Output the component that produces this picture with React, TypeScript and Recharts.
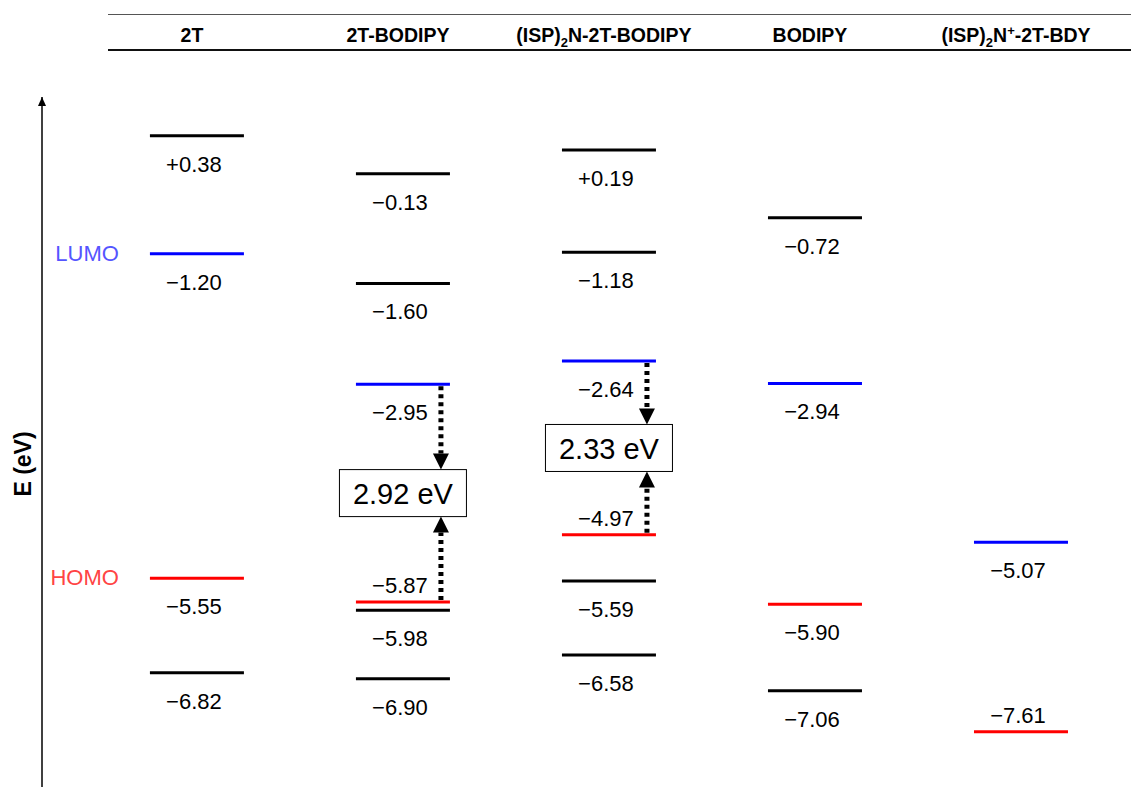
import {
  ComposedChart,
  Label,
  ReferenceLine,
  Scatter,
  XAxis,
  YAxis,
} from "recharts";

// compounds, left to right (_{..} subscript, ^{..} superscript)
const compounds = [
  "2T",
  "2T-BODIPY",
  "(ISP)_{2}N-2T-BODIPY",
  "BODIPY",
  "(ISP)_{2}N^{+}-2T-BDY",
];

// orbital energies in eV, one list per compound
const levels2T = [0.38, -1.2, -5.55, -6.82];
const levels2TBodipy = [-0.13, -1.6, -2.95, -5.87, -5.98, -6.9];
const levelsIspBodipy = [0.19, -1.18, -2.64, -4.97, -5.59, -6.58];
const levelsBodipy = [-0.72, -2.94, -5.9, -7.06];
const levelsIspPlus = [-5.07, -7.61];

const lumo = [-1.2, -2.95, -2.64, -2.94, -5.07];
const homo = [-5.55, -5.87, -4.97, -5.9, -7.61];

// values written above their line instead of below
const labelsAbove = [-5.87, -4.97, -7.61];

// compounds that get the band gap arrows
const gapCompounds = [1, 2];

const allLevels = [
  levels2T,
  levels2TBodipy,
  levelsIspBodipy,
  levelsBodipy,
  levelsIspPlus,
];

type Level = {
  col: number;
  e: number;
  kind: "lumo" | "homo" | "mo";
  above: boolean;
};

const levelData: Level[] = allLevels.flatMap((list, col) =>
  list.map((e) => ({
    col,
    e,
    kind: e === lumo[col] ? "lumo" : e === homo[col] ? "homo" : "mo",
    above: labelsAbove.includes(e),
  }))
);

const FONT = '"Liberation Sans", Arial, Helvetica, sans-serif';
const X_DOMAIN: [number, number] = [-0.752, 4.534];
const Y_DOMAIN: [number, number] = [-8.35, 0.9];

function formatEnergy(e: number) {
  return e > 0 ? `+${e.toFixed(2)}` : `\u2212${Math.abs(e).toFixed(2)}`;
}

function richText(s: string, small: number) {
  const parts = s.split(/(_\{[^}]*\}|\^\{[^}]*\})/).filter(Boolean);
  let shift = 0;
  return parts.map((p, i) => {
    let want = 0;
    let text = p;
    let size: number | undefined;
    if (p.startsWith("_{")) {
      want = 5;
      text = p.slice(2, -1);
      size = small;
    } else if (p.startsWith("^{")) {
      want = -7;
      text = p.slice(2, -1);
      size = small;
    }
    const dy = want - shift;
    shift = want;
    return (
      <tspan key={i} dy={dy} fontSize={size}>
        {text}
      </tspan>
    );
  });
}

function HeaderTick(props: any) {
  const { x, payload } = props;
  const name = compounds[payload.value];
  if (name === undefined) return null;
  return (
    <text
      x={x - 5}
      y={42}
      textAnchor="middle"
      fontFamily={FONT}
      fontWeight="bold"
      fontSize={19.5}
      fill="#000"
    >
      {richText(name, 13)}
    </text>
  );
}

function LevelShape(props: any) {
  const { cx, cy, payload } = props;
  const p = payload as Level;
  const color =
    p.kind === "lumo" ? "#0000ff" : p.kind === "homo" ? "#ff0000" : "#000000";
  const half = 47;
  return (
    <g>
      <line
        x1={cx - half}
        x2={cx + half}
        y1={cy}
        y2={cy}
        stroke={color}
        strokeWidth={3}
      />
      <text
        x={cx - 3}
        y={p.above ? cy - 9 : cy + 36}
        textAnchor="middle"
        fontFamily={FONT}
        fontSize={22}
        fill="#000"
      >
        {formatEnergy(p.e)}
      </text>
      {p.col === 0 && p.kind !== "mo" ? (
        <text
          x={cx - 78}
          y={cy + 7}
          textAnchor="end"
          fontFamily={FONT}
          fontSize={22}
          fill={p.kind === "lumo" ? "#5555ff" : "#ff4444"}
        >
          {p.kind === "lumo" ? "LUMO" : "HOMO"}
        </text>
      ) : null}
    </g>
  );
}

function GapShape(props: any) {
  const { x1, y1, y2, gap } = props;
  const boxW = 127;
  const boxH = 47;
  const head = 16;
  const mid = (y1 + y2) / 2;
  const top = mid - boxH / 2;
  const bottom = mid + boxH / 2;
  const ax = x1 + 38;
  return (
    <g>
      <line
        x1={ax}
        x2={ax}
        y1={y1 + 2}
        y2={top - head}
        stroke="#000"
        strokeWidth={5}
        strokeDasharray="4 4"
      />
      <polygon
        points={`${ax - 8},${top - head} ${ax + 8},${top - head} ${ax},${top}`}
        fill="#000"
      />
      <line
        x1={ax}
        x2={ax}
        y1={y2 - 2}
        y2={bottom + head}
        stroke="#000"
        strokeWidth={5}
        strokeDasharray="4 4"
      />
      <polygon
        points={`${ax - 8},${bottom + head} ${ax + 8},${bottom + head} ${ax},${bottom}`}
        fill="#000"
      />
      <rect
        x={x1 - boxW / 2}
        y={top}
        width={boxW}
        height={boxH}
        fill="#fff"
        stroke="#000"
        strokeWidth={1}
      />
      <text
        x={x1}
        y={mid + 11}
        textAnchor="middle"
        fontFamily={FONT}
        fontSize={29}
        fill="#000"
      >
        {`${gap.toFixed(2)} eV`}
      </text>
    </g>
  );
}

function AxisTitle(props: any) {
  const { viewBox } = props;
  const { x, y, width, height } = viewBox;
  const ax = x + width;
  const cy = y + height / 2 + 22;
  return (
    <g>
      <polygon points={`${ax - 4},${y + 9} ${ax + 4},${y + 9} ${ax},${y}`} fill="#000" />
      <text
        x={23}
        y={cy}
        transform={`rotate(-90, 23, ${cy})`}
        textAnchor="middle"
        dominantBaseline="central"
        fontFamily={FONT}
        fontWeight="bold"
        fontSize={23}
        fill="#000"
      >
        E (eV)
      </text>
    </g>
  );
}

export default function App() {
  return (
    <div
      style={{
        position: "absolute",
        left: 0,
        top: 0,
        width: 1131,
        height: 787,
        background: "#fff",
        fontFamily: FONT,
      }}
    >
      <div
        style={{
          position: "absolute",
          left: 108,
          top: 14,
          width: 1023,
          height: 34,
          borderTop: "1.5px solid #555",
          borderBottom: "2px solid #111",
        }}
      />
      <ComposedChart
        width={1131}
        height={787}
        data={levelData}
        margin={{ top: 57, right: 0, bottom: 0, left: 0 }}
        style={{ position: "absolute", left: 0, top: 0 }}
      >
        <XAxis
          orientation="top"
          type="number"
          dataKey="col"
          domain={X_DOMAIN}
          allowDataOverflow
          ticks={[0, 1, 2, 3, 4]}
          interval={0}
          height={40}
          axisLine={false}
          tickLine={false}
          tick={<HeaderTick />}
        />
        <YAxis
          type="number"
          dataKey="e"
          domain={Y_DOMAIN}
          allowDataOverflow
          width={42}
          tick={false}
          tickLine={false}
          axisLine={{ stroke: "#000", strokeWidth: 1.5 }}
        >
          <Label content={<AxisTitle />} />
        </YAxis>
        <Scatter
          data={levelData}
          dataKey="e"
          shape={<LevelShape />}
          isAnimationActive={false}
        />
        {gapCompounds.map((col) => (
          <ReferenceLine
            key={col}
            segment={[
              { x: col, y: lumo[col] },
              { x: col, y: homo[col] },
            ]}
            ifOverflow="visible"
            shape={(p: any) => (
              <GapShape {...p} gap={lumo[col] - homo[col]} />
            )}
          />
        ))}
      </ComposedChart>
    </div>
  );
}
